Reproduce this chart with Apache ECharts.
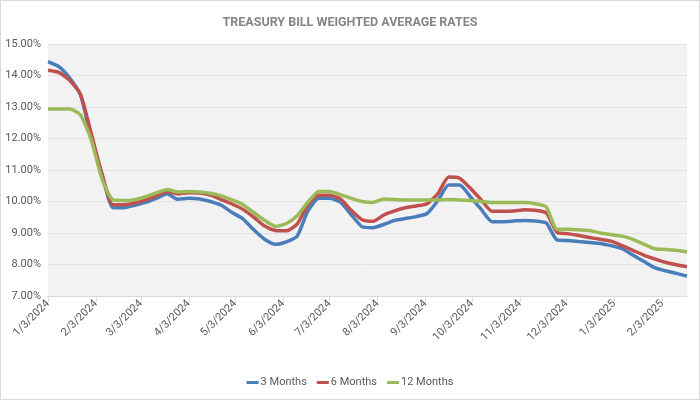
<!DOCTYPE html>
<html>
<head>
<meta charset="utf-8">
<script src="https://cdn.jsdelivr.net/npm/echarts@6/dist/echarts.min.js"></script>
<style>
html,body{margin:0;padding:0;background:#fff;}
#c{width:698px;height:398px;border:1px solid #d9d9d9;}
</style>
</head>
<body>
<div id="c"></div>
<script>
var dates = ['2024-01-03','2024-01-10','2024-01-17','2024-01-24','2024-01-31','2024-02-07','2024-02-14','2024-02-21','2024-02-28','2024-03-06',
'2024-03-13','2024-03-20','2024-03-27','2024-04-03','2024-04-10','2024-04-17','2024-04-24','2024-05-01','2024-05-08','2024-05-15',
'2024-05-22','2024-05-29','2024-06-05','2024-06-12','2024-06-19','2024-06-26','2024-07-03','2024-07-10','2024-07-17','2024-07-24',
'2024-07-31','2024-08-07','2024-08-14','2024-08-21','2024-08-28','2024-09-04','2024-09-11','2024-09-18','2024-09-25','2024-10-02',
'2024-10-09','2024-10-16','2024-10-23','2024-10-30','2024-11-06','2024-11-13','2024-11-20','2024-11-27','2024-12-04','2024-12-11',
'2024-12-18','2024-12-25','2025-01-01','2025-01-08','2025-01-15','2025-01-22','2025-01-29','2025-02-05','2025-02-12','2025-02-19'];

var months3 = [14.44,14.28,13.92,13.38,12.00,10.85,9.80,9.80,9.88,9.97,
10.10,10.25,10.07,10.10,10.08,10.00,9.88,9.65,9.45,9.10,
8.80,8.64,8.72,8.90,9.70,10.10,10.10,9.98,9.58,9.20,
9.17,9.27,9.40,9.46,9.52,9.62,10.03,10.52,10.52,10.15,
9.75,9.36,9.36,9.38,9.40,9.38,9.32,8.78,8.76,8.73,
8.70,8.67,8.60,8.50,8.30,8.10,7.90,7.80,7.72,7.63];

var months6 = [14.17,14.10,13.85,13.40,12.15,10.85,9.90,9.90,9.95,10.05,
10.18,10.32,10.24,10.28,10.27,10.20,10.06,9.92,9.75,9.50,
9.22,9.08,9.07,9.28,9.90,10.20,10.20,10.08,9.72,9.42,
9.37,9.57,9.70,9.80,9.86,9.93,10.25,10.78,10.74,10.42,
10.05,9.69,9.69,9.70,9.74,9.72,9.64,9.02,8.98,8.92,
8.86,8.80,8.74,8.60,8.45,8.30,8.18,8.07,7.99,7.93];

var months12 = [12.94,12.94,12.94,12.75,11.95,10.70,10.05,10.03,10.06,10.15,
10.27,10.38,10.30,10.32,10.30,10.26,10.18,10.05,9.90,9.65,
9.40,9.21,9.30,9.55,9.98,10.32,10.32,10.22,10.10,10.00,
9.97,10.08,10.06,10.05,10.05,10.05,10.05,10.06,10.05,10.03,
10.00,9.97,9.97,9.97,9.97,9.93,9.83,9.12,9.12,9.10,
9.08,9.00,8.95,8.90,8.80,8.65,8.50,8.48,8.45,8.40];

var tickDates = ['2024-01-03','2024-02-03','2024-03-03','2024-04-03','2024-05-03','2024-06-03','2024-07-03',
'2024-08-03','2024-09-03','2024-10-03','2024-11-03','2024-12-03','2025-01-03','2025-02-03'];

var seriesNames = ['3 Months','6 Months','12 Months'];
var colors = ['#4a7ebb','#c0504d','#9bbb59'];

function ts(s){ return Date.parse(s + 'T00:00:00Z'); }
function pair(vals){ return dates.map(function(d,i){ return [ts(d), vals[i]]; }); }
var allVals = [months3, months6, months12];
var tickTs = tickDates.map(ts);

var font = 'Roboto, "Liberation Sans", sans-serif';
var chart = echarts.init(document.getElementById('c'));
chart.setOption({
  animation:false,
  color: colors,
  title:{
    text:'TREASURY BILL WEIGHTED AVERAGE RATES',
    left:'center', top:10,
    textStyle:{fontFamily:font, fontSize:12.5, fontWeight:'bold', color:'#868686'}
  },
  legend:{
    bottom:6, left:'center',
    icon:'rect', itemWidth:12, itemHeight:3, itemGap:10,
    textStyle:{fontFamily:font, fontSize:11, color:'#595959', padding:[0,0,0,-3]},
    data: seriesNames
  },
  grid:{left:47, right:12, top:43, bottom:103, show:true, backgroundColor:'#f2f2f2', borderWidth:0},
  xAxis:{
    type:'value',
    min: ts(dates[0]), max: ts(dates[dates.length-1]),
    axisLine:{show:true, lineStyle:{color:'#d9d9d9', width:1}},
    axisTick:{show:true, customValues: tickTs, length:5, lineStyle:{color:'#d9d9d9'}},
    splitLine:{show:false},
    axisLabel:{
      customValues: tickTs,
      rotate:45, margin:6,
      fontFamily:font, fontSize:11, color:'#595959',
      formatter:function(v){ var d=new Date(v); return (d.getUTCMonth()+1)+'/'+d.getUTCDate()+'/'+d.getUTCFullYear(); }
    }
  },
  yAxis:{
    type:'value', min:7, max:15, interval:1,
    axisLine:{show:false}, axisTick:{show:false},
    splitLine:{lineStyle:{color:'#e2e2e2', width:1}},
    axisLabel:{fontFamily:font, fontSize:11, color:'#595959', margin:7,
      formatter:function(v){ return v.toFixed(2)+'%'; }}
  },
  series: seriesNames.map(function(n,k){
    return {name:n, type:'line', data:pair(allVals[k]), showSymbol:false, smooth:0.2,
      lineStyle:{width:3.5, color:colors[k]}, itemStyle:{color:colors[k]}};
  })
});
</script>
</body>
</html>
